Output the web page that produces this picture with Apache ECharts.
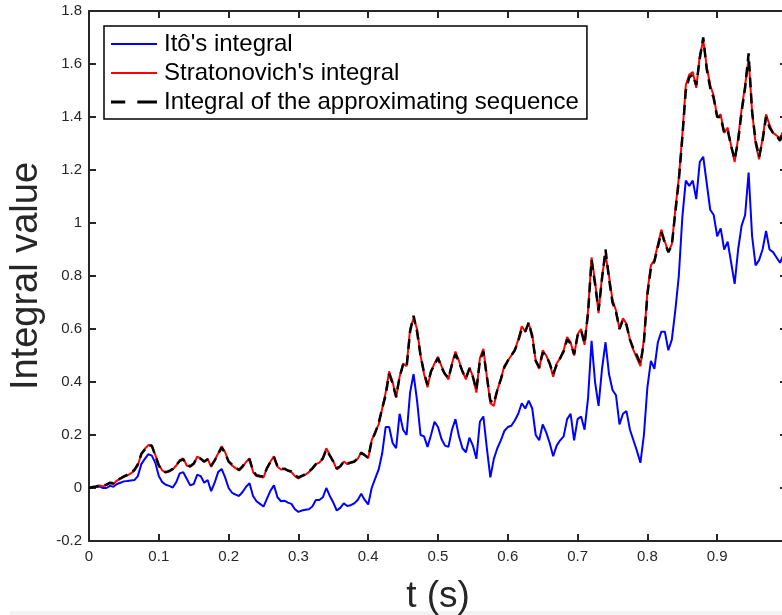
<!DOCTYPE html>
<html>
<head>
<meta charset="utf-8">
<script src="https://cdn.jsdelivr.net/npm/echarts@6/dist/echarts.min.js"></script>
<style>
html,body{margin:0;padding:0;background:#fff;}
#chart{width:782px;height:615px;}
</style>
</head>
<body>
<div id="chart"></div>
<script>
// time grid (s)
var tValues = [0,0.005,0.01,0.015,0.02,0.025,0.03,0.035,0.04,0.045,0.05,0.055,0.06,0.065,0.07,0.075,0.08,0.085,0.09,0.095,
0.1,0.105,0.11,0.115,0.12,0.125,0.13,0.135,0.14,0.145,0.15,0.155,0.16,0.165,0.17,0.175,0.18,0.185,0.19,0.195,
0.2,0.205,0.21,0.215,0.22,0.225,0.23,0.235,0.24,0.245,0.25,0.255,0.26,0.265,0.27,0.275,0.28,0.285,0.29,0.295,
0.3,0.305,0.31,0.315,0.32,0.325,0.33,0.335,0.34,0.345,0.35,0.355,0.36,0.365,0.37,0.375,0.38,0.385,0.39,0.395,
0.4,0.405,0.41,0.415,0.42,0.425,0.43,0.435,0.44,0.445,0.45,0.455,0.46,0.465,0.47,0.475,0.48,0.485,0.49,0.495,
0.5,0.505,0.51,0.515,0.52,0.525,0.53,0.535,0.54,0.545,0.55,0.555,0.56,0.565,0.57,0.575,0.58,0.585,0.59,0.595,
0.6,0.605,0.61,0.615,0.62,0.625,0.63,0.635,0.64,0.645,0.65,0.655,0.66,0.665,0.67,0.675,0.68,0.685,0.69,0.695,
0.7,0.705,0.71,0.715,0.72,0.725,0.73,0.735,0.74,0.745,0.75,0.755,0.76,0.765,0.77,0.775,0.78,0.785,0.79,0.795,
0.8,0.805,0.81,0.815,0.82,0.825,0.83,0.835,0.84,0.845,0.85,0.855,0.86,0.865,0.87,0.875,0.88,0.885,0.89,0.895,
0.9,0.905,0.91,0.915,0.92,0.925,0.93,0.935,0.94,0.945,0.95,0.955,0.96,0.965,0.97,0.975,0.98,0.985,0.99,0.995,1];

// Itô's integral
var itoValues = [0,0.002,0.004,0.006,0,0,0.008,0.005,0.015,0.02,0.025,0.026,0.028,0.03,0.045,0.09,0.11,0.128,0.122,0.095,
0.045,0.022,0.012,0.008,0.002,0.022,0.055,0.06,0.035,0.01,0.015,0.05,0.045,0.02,0.03,-0.012,0.02,0.06,0.072,0.04,
0,-0.018,-0.025,-0.03,-0.015,0.005,0.018,-0.03,-0.05,-0.06,-0.07,-0.04,-0.01,0.01,-0.035,-0.05,-0.048,-0.055,-0.06,-0.08,
-0.09,-0.085,-0.082,-0.08,-0.07,-0.045,-0.045,-0.035,0,-0.03,-0.055,-0.085,-0.075,-0.058,-0.068,-0.065,-0.058,-0.045,-0.022,-0.045,
-0.062,0,0.035,0.07,0.13,0.23,0.23,0.17,0.15,0.28,0.22,0.2,0.36,0.43,0.33,0.2,0.195,0.155,0.2,0.25,
0.23,0.185,0.16,0.155,0.22,0.26,0.195,0.15,0.135,0.19,0.16,0.11,0.25,0.27,0.15,0.04,0.11,0.15,0.18,0.215,
0.23,0.235,0.255,0.28,0.32,0.3,0.33,0.3,0.2,0.18,0.24,0.21,0.17,0.12,0.16,0.18,0.195,0.26,0.28,0.18,
0.26,0.27,0.22,0.34,0.555,0.4,0.31,0.45,0.55,0.43,0.37,0.35,0.24,0.28,0.29,0.22,0.18,0.14,0.095,0.2,
0.38,0.48,0.45,0.55,0.59,0.59,0.52,0.56,0.67,0.8,1.02,1.16,1.14,1.16,1.09,1.23,1.25,1.15,1.05,1.03,
0.95,0.98,0.9,0.93,0.85,0.77,0.9,0.99,1.03,1.19,0.95,0.84,0.86,0.9,0.97,0.9,0.89,0.87,0.85,0.88,0.87];

// Stratonovich's integral
var stratValues = [0,0.003,0.005,0.01,0.006,0.012,0.018,0.015,0.028,0.035,0.042,0.048,0.055,0.066,0.085,0.13,0.148,0.162,0.158,0.125,
0.088,0.066,0.058,0.063,0.07,0.085,0.105,0.112,0.085,0.08,0.09,0.118,0.112,0.098,0.11,0.08,0.105,0.13,0.158,0.135,
0.1,0.085,0.075,0.066,0.08,0.098,0.112,0.06,0.045,0.042,0.04,0.075,0.1,0.12,0.08,0.07,0.072,0.065,0.06,0.045,
0.036,0.045,0.05,0.06,0.072,0.09,0.096,0.11,0.15,0.125,0.1,0.07,0.08,0.1,0.09,0.095,0.098,0.11,0.135,0.125,
0.112,0.18,0.212,0.24,0.3,0.36,0.44,0.4,0.34,0.42,0.47,0.46,0.6,0.64,0.6,0.5,0.43,0.38,0.44,0.47,
0.495,0.46,0.43,0.41,0.47,0.515,0.48,0.44,0.41,0.455,0.42,0.36,0.49,0.525,0.42,0.32,0.31,0.37,0.41,0.46,
0.48,0.5,0.52,0.56,0.61,0.59,0.62,0.58,0.48,0.45,0.52,0.5,0.47,0.42,0.47,0.49,0.52,0.57,0.55,0.5,
0.58,0.6,0.54,0.67,0.87,0.78,0.66,0.8,0.88,0.8,0.71,0.67,0.6,0.64,0.62,0.56,0.52,0.49,0.46,0.56,
0.74,0.84,0.86,0.92,0.975,0.93,0.89,0.92,1.05,1.17,1.33,1.52,1.56,1.57,1.51,1.63,1.69,1.59,1.52,1.48,
1.4,1.41,1.34,1.36,1.29,1.23,1.32,1.43,1.52,1.62,1.42,1.3,1.24,1.32,1.41,1.37,1.34,1.33,1.32,1.35,1.33];

// Integral of the approximating sequence
var approxValues = [0,0.004,0.006,0.009,0.008,0.013,0.02,0.018,0.03,0.036,0.044,0.05,0.057,0.068,0.09,0.128,0.145,0.16,0.16,0.122,
0.085,0.064,0.06,0.064,0.072,0.087,0.102,0.108,0.088,0.082,0.092,0.115,0.11,0.1,0.108,0.084,0.104,0.128,0.152,0.132,
0.1,0.088,0.078,0.068,0.082,0.1,0.108,0.064,0.048,0.045,0.043,0.075,0.098,0.116,0.082,0.072,0.073,0.066,0.062,0.048,
0.04,0.046,0.052,0.062,0.074,0.09,0.097,0.112,0.145,0.122,0.1,0.074,0.082,0.1,0.092,0.096,0.1,0.112,0.132,0.124,
0.114,0.178,0.208,0.245,0.3,0.35,0.43,0.395,0.345,0.42,0.465,0.455,0.59,0.65,0.59,0.5,0.435,0.39,0.44,0.465,
0.49,0.455,0.43,0.415,0.465,0.505,0.475,0.44,0.415,0.45,0.42,0.37,0.48,0.515,0.42,0.33,0.32,0.37,0.41,0.455,
0.48,0.5,0.52,0.555,0.6,0.59,0.625,0.57,0.48,0.455,0.51,0.5,0.47,0.43,0.465,0.49,0.515,0.56,0.545,0.505,
0.575,0.595,0.545,0.66,0.86,0.77,0.67,0.79,0.9,0.79,0.7,0.665,0.6,0.635,0.615,0.56,0.525,0.5,0.47,0.55,
0.73,0.83,0.855,0.91,0.965,0.925,0.89,0.915,1.04,1.16,1.32,1.5,1.55,1.56,1.52,1.62,1.7,1.58,1.51,1.47,
1.4,1.4,1.34,1.35,1.29,1.24,1.31,1.42,1.51,1.64,1.42,1.31,1.25,1.31,1.4,1.36,1.34,1.33,1.31,1.35,1.34];

// axis ticks
var xTicks = {min: 0, max: 1, interval: 0.1};
var yTicks = {min: -0.2, max: 1.8, interval: 0.2};

var seriesNames = ["Itô's integral", "Stratonovich's integral", "Integral of the approximating sequence"];

function pairs(vals) {
  var out = [];
  for (var i = 0; i < vals.length; i++) out.push([tValues[i], vals[i]]);
  return out;
}

var axisColor = '#262626';
var font = '"Liberation Sans", Arial, Helvetica, sans-serif';

var chart = echarts.init(document.getElementById('chart'), null, {renderer: 'canvas'});
chart.setOption({
  backgroundColor: '#ffffff',
  animation: false,
  grid: {left: 89, top: 11, right: -5, bottom: 74, containLabel: false, outerBoundsMode: 'none', show: false},
  legend: {
    left: 104, top: 26, orient: 'vertical',
    data: [
      {name: seriesNames[0], icon: 'path://M0,0h46v2h-46z'},
      {name: seriesNames[1], icon: 'path://M0,0h46v2h-46z'},
      {name: seriesNames[2], icon: 'path://M0,0h13v2.6h-13z M24,0h18v2.6h-18z'}
    ],
    itemWidth: 46, itemHeight: 14, itemGap: 5,
    padding: [6, 8, 5, 7],
    backgroundColor: '#ffffff',
    borderColor: '#000000', borderWidth: 1.5, borderRadius: 0,
    textStyle: {fontFamily: font, fontSize: 24, color: '#000000', padding: [0, 0, 0, 2]},
    selectedMode: false
  },
  xAxis: [{
    type: 'value', min: xTicks.min, max: xTicks.max, interval: xTicks.interval,
    position: 'bottom',
    name: 't (s)', nameLocation: 'middle', nameGap: 37,
    nameTextStyle: {fontFamily: font, fontSize: 37, color: axisColor},
    axisLine: {show: true, onZero: false, lineStyle: {color: axisColor, width: 2}},
    axisTick: {show: true, inside: true, length: 7, lineStyle: {color: axisColor, width: 2}},
    axisLabel: {fontFamily: font, fontSize: 15, color: axisColor, margin: 8,
      formatter: function (v) { return String(Math.round(v * 10) / 10); }},
    splitLine: {show: false}
  }, {
    type: 'value', min: xTicks.min, max: xTicks.max, interval: xTicks.interval,
    position: 'top',
    axisLine: {show: true, onZero: false, lineStyle: {color: axisColor, width: 2}},
    axisTick: {show: true, inside: true, length: 7, lineStyle: {color: axisColor, width: 2}},
    axisLabel: {show: false}, splitLine: {show: false}
  }],
  yAxis: [{
    type: 'value', min: yTicks.min, max: yTicks.max, interval: yTicks.interval,
    position: 'left',
    name: 'Integral value', nameLocation: 'middle', nameGap: 39, nameRotate: 90,
    nameTextStyle: {fontFamily: font, fontSize: 38, color: axisColor},
    axisLine: {show: true, onZero: false, lineStyle: {color: axisColor, width: 2}},
    axisTick: {show: true, inside: true, length: 7, lineStyle: {color: axisColor, width: 2}},
    axisLabel: {fontFamily: font, fontSize: 15, color: axisColor, margin: 7,
      formatter: function (v) { return String(Math.round(v * 10) / 10); }},
    splitLine: {show: false}
  }, {
    type: 'value', min: yTicks.min, max: yTicks.max, interval: yTicks.interval,
    position: 'right',
    axisLine: {show: true, onZero: false, lineStyle: {color: axisColor, width: 2}},
    axisTick: {show: true, inside: true, length: 7, lineStyle: {color: axisColor, width: 2}},
    axisLabel: {show: false}, splitLine: {show: false}
  }],
  series: [{
    name: seriesNames[0], type: 'line', data: pairs(itoValues),
    symbol: 'none', lineStyle: {color: '#0000ff', width: 2}, itemStyle: {color: '#0000ff'}, z: 2
  }, {
    name: seriesNames[1], type: 'line', data: pairs(stratValues),
    symbol: 'none', lineStyle: {color: '#ff0000', width: 2}, itemStyle: {color: '#ff0000'}, z: 3
  }, {
    name: seriesNames[2], type: 'line', data: pairs(approxValues),
    symbol: 'none', lineStyle: {color: '#000000', width: 2.5, type: [10, 6]}, itemStyle: {color: '#000000'}, z: 4
  }],
  graphic: [{
    type: 'rect', left: 10, top: 611, shape: {width: 772, height: 4},
    style: {fill: '#f3f3f3'}, silent: true, z: -1
  }]
});
</script>
</body>
</html>
